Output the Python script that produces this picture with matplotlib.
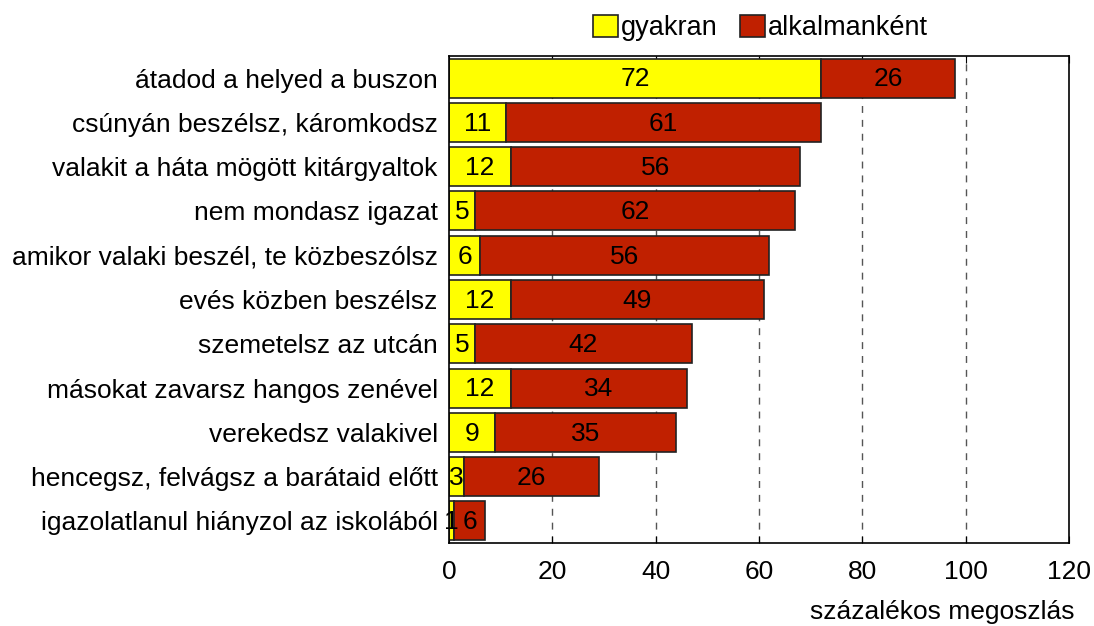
import matplotlib.pyplot as plt
import numpy as np

# categories (top to bottom) and values
categories = [
    "átadod a helyed a buszon",
    "csúnyán beszélsz, káromkodsz",
    "valakit a háta mögött kitárgyaltok",
    "nem mondasz igazat",
    "amikor valaki beszél, te közbeszólsz",
    "evés közben beszélsz",
    "szemetelsz az utcán",
    "másokat zavarsz hangos zenével",
    "verekedsz valakivel",
    "hencegsz, felvágsz a barátaid előtt",
    "igazolatlanul hiányzol az iskolából",
]
gyakran = [72, 11, 12, 5, 6, 12, 5, 12, 9, 3, 1]
alkalmankent = [26, 61, 56, 62, 56, 49, 42, 34, 35, 26, 6]
x_ticks = [0, 20, 40, 60, 80, 100, 120]

plt.rcParams['font.family'] = ['Liberation Sans', 'DejaVu Sans']
fs = 19

fig = plt.figure(figsize=(10.94, 6.26), dpi=100)
ax = fig.add_axes([0.4104, 0.1326, 0.5667, 0.7779])

y = np.arange(len(categories))
g = np.array(gyakran)
a = np.array(alkalmankent)

# dashed vertical gridlines behind the bars
for xv in x_ticks[1:-1]:
    ax.axvline(xv, color='#555555', linestyle=(0, (5, 5)), linewidth=1, zorder=0)

ax.barh(y, g, height=0.88, color='#ffff00', edgecolor='#222222',
        linewidth=1.2, label='gyakran', zorder=2)
ax.barh(y, a, left=g, height=0.88, color='#c02000', edgecolor='#222222',
        linewidth=1.2, label='alkalmanként', zorder=2)

# value labels centred in each segment
for i in range(len(categories)):
    ax.text(g[i] / 2, y[i] + 0.03, str(g[i]), ha='center', va='center',
            fontsize=fs, zorder=3)
    ax.text(g[i] + a[i] / 2, y[i] + 0.03, str(a[i]), ha='center', va='center',
            fontsize=fs, zorder=3)

ax.set_xlim(0, 120)
ax.set_ylim(len(categories) - 0.5, -0.5)
ax.set_xticks(x_ticks)
ax.set_yticks(y)
ax.set_yticklabels(categories, fontsize=fs)
ax.tick_params(axis='x', labelsize=fs, direction='in', top=True, length=5, pad=12)
ax.tick_params(axis='y', length=0, pad=8)
for s in ax.spines.values():
    s.set_linewidth(1.2)

fig.text(0.982, 0.003, "százalékos megoszlás", ha='right', va='bottom', fontsize=fs)

fig.legend(loc='center', bbox_to_anchor=(0.695, 0.955), ncol=2, frameon=False,
           fontsize=19.5, handlelength=0.95, handleheight=0.85,
           handletextpad=0.1, columnspacing=0.8)

fig.savefig("out.png", dpi=100)
